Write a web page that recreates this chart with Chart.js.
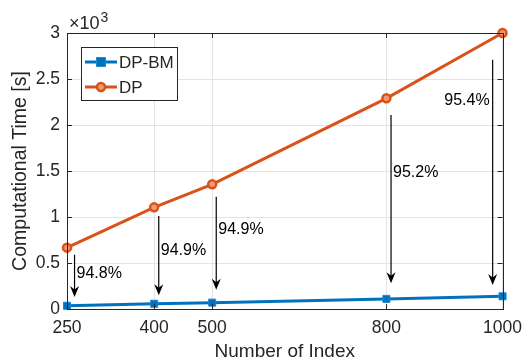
<!DOCTYPE html>
<html>
<head>
<meta charset="utf-8">
<script src="https://cdn.jsdelivr.net/npm/chart.js@4.4.1/dist/chart.umd.min.js"></script>
<style>
  html, body { margin: 0; padding: 0; background: #fff; }
  #wrap { width: 531px; height: 363px; }
</style>
</head>
<body>
<div id="wrap"><canvas id="chart" width="531" height="363"></canvas></div>
<script>
// values (time in units of 10^3 s)
const indexCounts = [250, 400, 500, 800, 1000];
const dpBmTime = [0.035, 0.057, 0.069, 0.110, 0.138];
const dpTime = [0.667, 1.105, 1.355, 2.290, 3.000];
const xTicks = [250, 400, 500, 800, 1000];
const yTicks = [0, 0.5, 1, 1.5, 2, 2.5, 3];

// reduction annotations (arrows in data units)
const reductionLabels = ['94.8%', '94.9%', '94.9%', '95.2%', '95.4%'];
const arrowX = [263, 408, 507, 808, 983];
const arrowFrom = [0.59, 1.01, 1.22, 2.11, 2.71];
const arrowTo = [0.13, 0.15, 0.21, 0.28, 0.26];
const labelY = [0.39, 0.63, 0.86, 1.48, 2.27];
const labelSide = ['right', 'right', 'right', 'right', 'left'];

const FONT = '"Liberation Sans", Arial, Helvetica, sans-serif';
const AXIS_COLOR = '#262626';
const BLUE = '#0072BD';
const ORANGE = '#D95319';

function drawArrow(ctx, x, y1, y2) {
  ctx.beginPath();
  ctx.moveTo(x, y1);
  ctx.lineTo(x, y2 - 6);
  ctx.stroke();
  ctx.beginPath();
  ctx.moveTo(x, y2);
  ctx.lineTo(x - 4.5, y2 - 11);
  ctx.lineTo(x, y2 - 7.5);
  ctx.lineTo(x + 4.5, y2 - 11);
  ctx.closePath();
  ctx.fill();
}

const matlabLook = {
  id: 'matlabLook',
  afterDraw(chart) {
    const ctx = chart.ctx;
    const xs = chart.scales.x;
    const ys = chart.scales.y;
    const area = chart.chartArea;

    ctx.save();
    // box + inward ticks
    ctx.strokeStyle = AXIS_COLOR;
    ctx.lineWidth = 1;
    ctx.strokeRect(Math.round(area.left) + 0.5, Math.round(area.top) + 0.5,
      Math.round(area.right - area.left), Math.round(area.bottom - area.top));
    ctx.beginPath();
    xTicks.forEach(v => {
      const px = Math.round(xs.getPixelForValue(v)) + 0.5;
      ctx.moveTo(px, area.bottom); ctx.lineTo(px, area.bottom - 5);
      ctx.moveTo(px, area.top); ctx.lineTo(px, area.top + 5);
    });
    yTicks.forEach(v => {
      const py = Math.round(ys.getPixelForValue(v)) + 0.5;
      ctx.moveTo(area.left, py); ctx.lineTo(area.left + 5, py);
      ctx.moveTo(area.right, py); ctx.lineTo(area.right - 5, py);
    });
    ctx.stroke();

    // exponent label
    ctx.fillStyle = AXIS_COLOR;
    ctx.textBaseline = 'alphabetic';
    ctx.textAlign = 'left';
    ctx.font = '18px ' + FONT;
    ctx.fillText('\u00d710', area.left + 2, area.top - 4);
    const w = ctx.measureText('\u00d710').width;
    ctx.font = '14px ' + FONT;
    ctx.fillText('3', area.left + 2 + w + 1, area.top - 11);

    // arrows and labels
    ctx.strokeStyle = '#000';
    ctx.fillStyle = '#000';
    ctx.lineWidth = 1.2;
    ctx.font = '16px ' + FONT;
    ctx.textBaseline = 'middle';
    arrowX.forEach((v, i) => {
      const px = xs.getPixelForValue(v);
      drawArrow(ctx, px, ys.getPixelForValue(arrowFrom[i]), ys.getPixelForValue(arrowTo[i]));
      const ly = ys.getPixelForValue(labelY[i]);
      if (labelSide[i] === 'left') {
        ctx.textAlign = 'right';
        ctx.fillText(reductionLabels[i], px - 3, ly);
      } else {
        ctx.textAlign = 'left';
        ctx.fillText(reductionLabels[i], px + 2, ly);
      }
    });

    // legend
    const lx = area.left + 14, ly0 = area.top + 14;
    const lw = 96, lh = 53;
    ctx.fillStyle = '#fff';
    ctx.fillRect(lx, ly0, lw, lh);
    ctx.strokeStyle = AXIS_COLOR;
    ctx.lineWidth = 1;
    ctx.strokeRect(lx + 0.5, ly0 + 0.5, lw, lh);
    chart.data.datasets.forEach((ds, i) => {
      const cy = ly0 + 15 + i * 25;
      ctx.strokeStyle = ds.borderColor;
      ctx.lineWidth = 3;
      ctx.beginPath();
      ctx.moveTo(lx + 4, cy); ctx.lineTo(lx + 36, cy);
      ctx.stroke();
      ctx.fillStyle = ds.pointBackgroundColor;
      ctx.strokeStyle = ds.pointBorderColor;
      ctx.lineWidth = ds.pointBorderWidth;
      ctx.beginPath();
      if (ds.pointStyle === 'rect') {
        ctx.rect(lx + 20 - 4.5, cy - 4.5, 9, 9);
      } else {
        ctx.arc(lx + 20, cy, 4, 0, Math.PI * 2);
      }
      ctx.fill(); ctx.stroke();
      ctx.fillStyle = AXIS_COLOR;
      ctx.font = '17px ' + FONT;
      ctx.textAlign = 'left';
      ctx.textBaseline = 'middle';
      ctx.fillText(ds.label, lx + 38, cy + 1);
    });
    ctx.restore();
  }
};

new Chart(document.getElementById('chart'), {
  type: 'line',
  data: {
    datasets: [
      {
        label: 'DP-BM',
        data: indexCounts.map((x, i) => ({ x: x, y: dpBmTime[i] })),
        borderColor: BLUE,
        borderWidth: 3,
        pointStyle: 'rect',
        pointRadius: 5,
        pointBackgroundColor: BLUE,
        pointBorderColor: '#1f88d0',
        pointBorderWidth: 1,
        clip: false
      },
      {
        label: 'DP',
        data: indexCounts.map((x, i) => ({ x: x, y: dpTime[i] })),
        borderColor: ORANGE,
        borderWidth: 3,
        pointStyle: 'circle',
        pointRadius: 4,
        pointBackgroundColor: '#ec9a78',
        pointBorderColor: ORANGE,
        pointBorderWidth: 2.5,
        clip: false
      }
    ]
  },
  options: {
    responsive: false,
    animation: false,
    layout: { padding: { left: 0, right: 19, top: 33, bottom: 0 } },
    plugins: { legend: { display: false }, tooltip: { enabled: false } },
    scales: {
      x: {
        type: 'linear',
        min: 250,
        max: 1000,
        afterBuildTicks: s => { s.ticks = xTicks.map(v => ({ value: v })); },
        afterFit: s => { s.height = 54; },
        grid: { color: '#e3e3e3', drawTicks: false },
        border: { display: false },
        ticks: { color: AXIS_COLOR, font: { family: FONT, size: 17.5 }, padding: 9, maxRotation: 0,
          callback: v => String(v) },
        title: { display: true, text: 'Number of Index', color: AXIS_COLOR,
          font: { family: FONT, size: 19 }, padding: { top: 0, bottom: 0 } }
      },
      y: {
        min: 0,
        max: 3,
        afterBuildTicks: s => { s.ticks = yTicks.map(v => ({ value: v })); },
        afterFit: s => { s.width = 67; },
        grid: { color: '#e3e3e3', drawTicks: false },
        border: { display: false },
        ticks: { color: AXIS_COLOR, font: { family: FONT, size: 17.5 }, padding: 7,
          callback: v => String(v) },
        title: { display: true, text: 'Computational Time [s]', color: AXIS_COLOR,
          font: { family: FONT, size: 19.5 }, padding: { top: 9, bottom: 0 } }
      }
    }
  },
  plugins: [matlabLook]
});
</script>
</body>
</html>
